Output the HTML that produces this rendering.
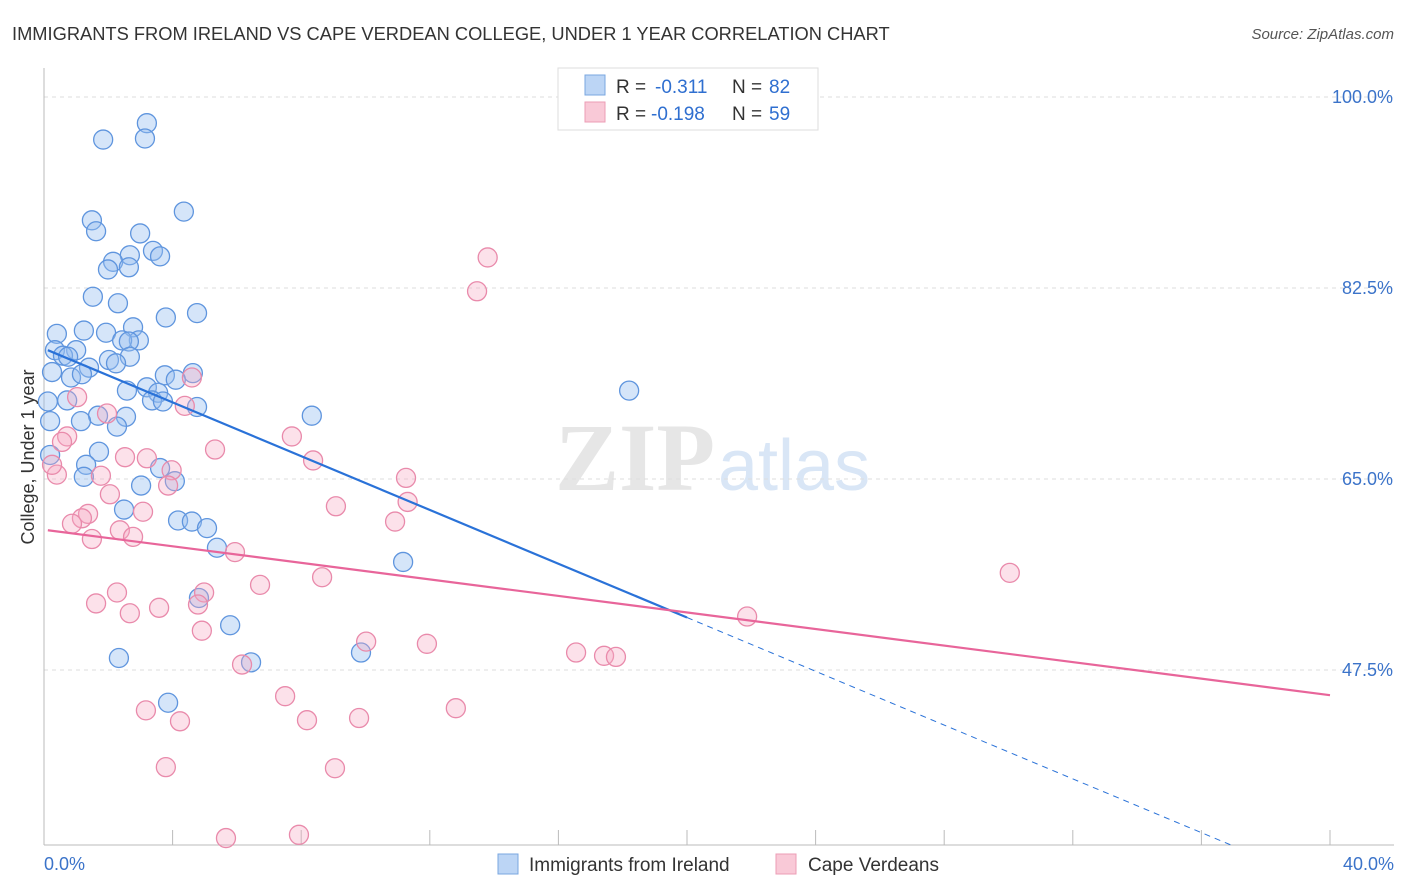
<!DOCTYPE html>
<html><head><meta charset="utf-8"><style>
body{margin:0;background:#fff;font-family:"Liberation Sans",sans-serif;}
svg{display:block}
</style></head><body>
<svg id="chart" width="1406" height="892" xmlns="http://www.w3.org/2000/svg">
<text x="12" y="40" font-size="18.3" fill="#333">IMMIGRANTS FROM IRELAND VS CAPE VERDEAN COLLEGE, UNDER 1 YEAR CORRELATION CHART</text>
<text x="1394" y="39" font-size="15" fill="#555" font-style="italic" text-anchor="end">Source: ZipAtlas.com</text>
<text x="715" y="490" font-size="96" fill="#e6e6e6" text-anchor="end" font-family="Liberation Serif" font-weight="bold">ZIP</text>
<text x="718" y="490" font-size="72" fill="#d9e6f6">atlas</text>
<g id="grid"></g><g id="marks"></g>
<text transform="translate(34,457) rotate(-90)" font-size="18" fill="#333" text-anchor="middle">College, Under 1 year</text>
<g>
<rect x="558" y="68" width="260" height="62" fill="#fff" stroke="#ddd"/>
<rect x="585" y="75" width="20" height="20" fill="#bcd5f5" stroke="#7aa7e0"/>
<rect x="585" y="102" width="20" height="20" fill="#f9c9d7" stroke="#ec9db6"/>
<text x="616" y="93" font-size="19" fill="#333">R =</text>
<text x="655" y="93" font-size="19" fill="#2f6fd0">-0.311</text>
<text x="732" y="93" font-size="19" fill="#333">N =</text>
<text x="769" y="93" font-size="19" fill="#2f6fd0">82</text>
<text x="616" y="120" font-size="19" fill="#333">R =</text>
<text x="651" y="120" font-size="19" fill="#2f6fd0">-0.198</text>
<text x="732" y="120" font-size="19" fill="#333">N =</text>
<text x="769" y="120" font-size="19" fill="#2f6fd0">59</text>
</g>
<g>
<rect x="498" y="854" width="20" height="20" fill="#bcd5f5" stroke="#7aa7e0"/>
<text x="529" y="871" font-size="19" fill="#333">Immigrants from Ireland</text>
<rect x="776" y="854" width="20" height="20" fill="#f9c9d7" stroke="#ec9db6"/>
<text x="808" y="871" font-size="19" fill="#333">Cape Verdeans</text>
</g>
</svg>
<script>
const yTicks=[100,82.5,65,47.5];
const xTickLabels=["0.0%","40.0%"];
const blueX=[1.84,3.2,3.14,4.35,1.49,1.62,2.99,3.39,2.67,3.61,2.15,1.99,2.64,1.52,2.3,4.76,3.79,0.4,1.24,2.77,1.93,2.95,2.43,2.64,0.34,1.0,0.59,0.75,2.67,2.02,2.24,1.4,0.25,0.84,1.18,3.76,4.63,4.1,3.2,2.58,3.55,0.72,3.36,3.7,4.76,0.12,1.68,2.55,1.15,8.33,2.27,18.2,0.19,1.71,1.31,3.61,4.07,1.24,3.02,2.49,4.17,4.6,5.07,5.38,11.17,4.82,5.79,2.33,6.44,9.86,3.86,0.19];
const blueY=[96.1,97.6,96.2,89.5,88.7,87.7,87.5,85.9,85.5,85.4,84.9,84.2,84.4,81.7,81.1,80.2,79.8,78.3,78.6,78.9,78.4,77.7,77.7,77.6,76.8,76.8,76.3,76.2,76.2,75.9,75.6,75.2,74.8,74.3,74.6,74.5,74.7,74.1,73.4,73.1,72.9,72.2,72.2,72.1,71.6,72.1,70.8,70.7,70.3,70.8,69.8,73.1,70.3,67.5,66.3,66.0,64.8,65.2,64.4,62.2,61.2,61.1,60.5,58.7,57.4,54.1,51.6,48.6,48.2,49.1,44.5,67.2];
const pinkX=[13.8,13.47,4.6,1.03,4.38,1.96,0.72,0.56,7.71,5.32,2.52,3.2,8.37,3.97,0.4,1.77,11.26,3.86,2.05,9.08,11.31,1.37,3.08,1.18,0.87,10.92,2.36,1.49,2.77,5.94,8.65,6.72,2.27,4.98,1.62,4.79,3.58,2.67,30.04,21.87,4.91,10.02,11.91,16.55,17.42,17.79,6.16,7.5,3.17,4.23,8.18,9.8,12.81,3.79,9.05,5.66,7.93,0.25];
const pinkY=[85.3,82.2,74.3,72.5,71.7,71.0,68.9,68.4,68.9,67.7,67.0,66.9,66.7,65.8,65.4,65.3,65.1,64.4,63.6,62.5,62.9,61.8,62.0,61.4,60.9,61.1,60.3,59.5,59.7,58.3,56.0,55.3,54.6,54.6,53.6,53.5,53.2,52.7,56.4,52.4,51.1,50.1,49.9,49.1,48.8,48.7,48.0,45.1,43.8,42.8,42.9,43.1,44.0,38.6,38.5,32.1,32.4,66.3];
const blueTrend=[76.95,-1.232];
const pinkTrend=[60.35,-0.379];
const NS="http://www.w3.org/2000/svg";
const sx=v=>44+v/40*1286;
const sy=v=>97+(100-v)/17.5*191;
function mk(t,a,p){const e=document.createElementNS(NS,t);for(const k in a)e.setAttribute(k,a[k]);p.appendChild(e);return e;}
const g=document.getElementById('grid'),m=document.getElementById('marks');
yTicks.forEach(v=>{
 const l=mk('line',{x1:44,x2:1394,y1:sy(v),y2:sy(v),stroke:'#ddd','stroke-dasharray':'4,4'},g);
 
 
 const t=mk('text',{x:1393,y:sy(v)+6,'font-size':18,fill:'#3b73c9','text-anchor':'end'},g);
 t.textContent=v.toFixed(1)+'%';
 
 
});
const ax=mk('line',{x1:44,x2:44,y1:68,y2:845,stroke:'#bbb'},g);


const bx=mk('line',{x1:44,x2:1394,y1:845,y2:845,stroke:'#bbb'},g);


for(let i=0;i<=10;i++){const l=mk('line',{x1:sx(i*4),x2:sx(i*4),y1:830,y2:845,stroke:'#bbb'},g);
 
 }
[[0,'start',44],[40,'end',1394]].forEach((d,i)=>{const t=mk('text',{x:d[2],y:870,'font-size':18,fill:'#3b73c9','text-anchor':d[1]},g);t.textContent=xTickLabels[i];
 
 });
function dots(X,Y,fill,stroke,name){X.forEach((x,i)=>{const c=mk('circle',{cx:sx(x),cy:sy(Y[i]),r:9.5,fill:fill,stroke:stroke,'stroke-width':1.3},m);
 
 });}
dots(blueX,blueY,'rgba(150,190,240,0.4)','#5f95de','ireland-point');
dots(pinkX,pinkY,'rgba(245,170,195,0.35)','#e98aab','cape-verdean-point');
const ty=(t,x)=>t[0]+t[1]*x;
let l1=mk('line',{x1:sx(0.12),y1:sy(ty(blueTrend,0.12)),x2:sx(20),y2:sy(ty(blueTrend,20)),stroke:'#2a72d8','stroke-width':2.2},m);


let l2=mk('line',{x1:sx(20),y1:sy(ty(blueTrend,20)),x2:sx(36.9),y2:sy(ty(blueTrend,36.9)),stroke:'#2a72d8','stroke-width':1,'stroke-dasharray':'6,5'},m);


let l3=mk('line',{x1:sx(0.12),y1:sy(ty(pinkTrend,0.12)),x2:sx(40),y2:sy(ty(pinkTrend,40)),stroke:'#e8659a','stroke-width':2.2},m);


</script>
</body></html>
